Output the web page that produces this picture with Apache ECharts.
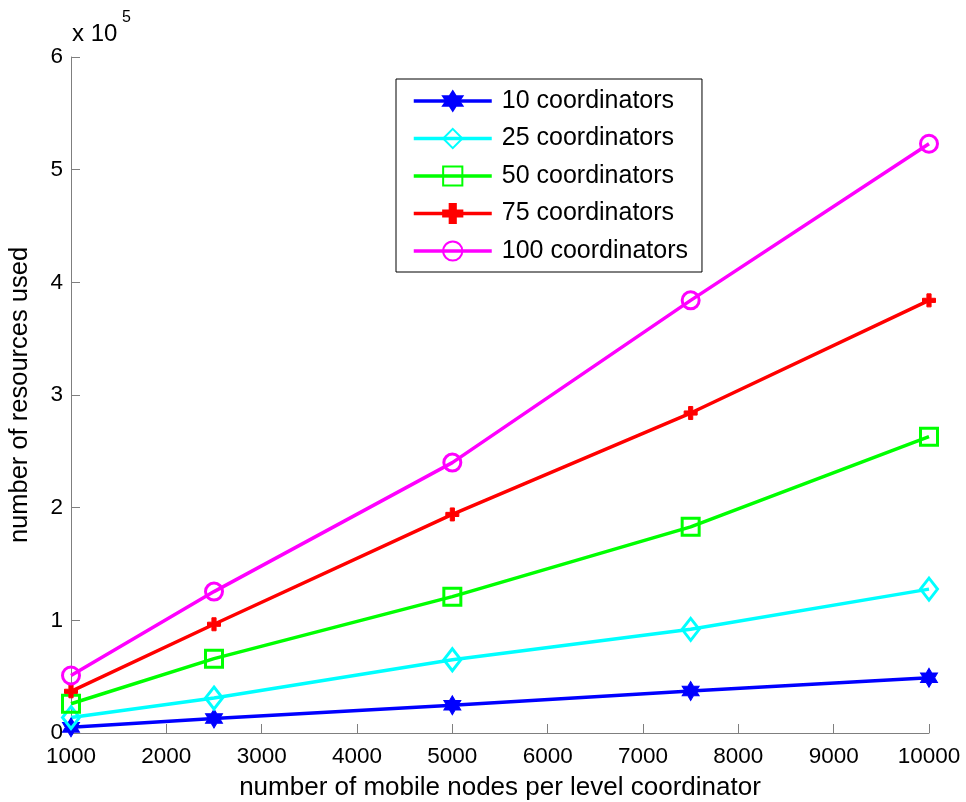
<!DOCTYPE html>
<html>
<head>
<meta charset="utf-8">
<script src="https://cdn.jsdelivr.net/npm/echarts@6/dist/echarts.min.js"></script>
<style>html,body{margin:0;padding:0;background:#fff;}#c{width:966px;height:802px;}</style>
</head>
<body>
<div id="c"></div>
<script>
var xValues = [1000, 2500, 5000, 7500, 10000];
var s10 = [5000, 12800, 24600, 37300, 49000];
var s25 = [13700, 31000, 65000, 92000, 127700];
var s50 = [26000, 66000, 121000, 183000, 263000];
var s75 = [37000, 96500, 194000, 284000, 384000];
var s100 = [51000, 125500, 240000, 384000, 523000];
var seriesNames = ['10 coordinators', '25 coordinators', '50 coordinators', '75 coordinators', '100 coordinators'];
var yTickLabels = ['0', '1', '2', '3', '4', '5', '6'];

var FONT = '"Liberation Sans", Arial, Helvetica, sans-serif';
var hexagram = 'path://M50 0 L64.43 25 L93.3 25 L78.87 50 L93.3 75 L64.43 75 L50 100 L35.57 75 L6.7 75 L21.13 50 L6.7 25 L35.57 25 Z';
var plusMark = 'path://M34 0 H66 V34 H100 V66 H66 V100 H34 V66 H0 V34 H34 Z';

function pairs(vals) {
  return xValues.map(function (x, i) { return [x, vals[i]]; });
}
function mk(name, vals, color, symbol, size, filled) {
  return {
    name: name,
    type: 'line',
    data: pairs(vals),
    symbol: symbol,
    symbolSize: size,
    showAllSymbol: true,
    lineStyle: { color: color, width: 3.5 },
    itemStyle: filled ? { color: color, borderColor: color, borderWidth: 1 } :
      { color: 'rgba(255,255,255,0)', borderColor: color, borderWidth: 3 },
    emphasis: { disabled: true },
    animation: false,
    z: 2
  };
}

var chart = echarts.init(document.getElementById('c'));
chart.setOption({
  backgroundColor: '#fff',
  animation: false,
  grid: { left: 71, right: 37, top: 57, bottom: 69, containLabel: false, outerBoundsMode: 'none' },
  xAxis: {
    type: 'value', min: 1000, max: 10000, interval: 1000,
    name: 'number of mobile nodes per level coordinator',
    nameLocation: 'middle', nameGap: 42,
    nameTextStyle: { fontFamily: FONT, fontSize: 26, color: '#000' },
    axisLine: { show: true, lineStyle: { color: '#7f7f7f', width: 1 } },
    axisTick: { show: true, inside: true, length: 9, lineStyle: { color: '#7f7f7f' } },
    axisLabel: {
      fontFamily: FONT, fontSize: 22.5, color: '#000', margin: 12,
      formatter: function (v) { return String(v); }
    },
    splitLine: { show: false }
  },
  yAxis: {
    type: 'value', min: 0, max: 600000, interval: 100000,
    name: 'number of resources used',
    nameLocation: 'middle', nameGap: 38,
    nameTextStyle: { fontFamily: FONT, fontSize: 25.5, color: '#000' },
    axisLine: { show: true, lineStyle: { color: '#7f7f7f', width: 1 } },
    axisTick: { show: true, inside: true, length: 9, lineStyle: { color: '#7f7f7f' } },
    axisLabel: {
      fontFamily: FONT, fontSize: 22.5, color: '#000', margin: 8,
      formatter: function (v) { return yTickLabels[Math.round(v / 100000)]; }
    },
    splitLine: { show: false }
  },
  legend: {
    orient: 'vertical', left: 396, top: 79,
    data: seriesNames,
    backgroundColor: '#fff', borderColor: '#000', borderWidth: 1,
    padding: [9.5, 14, 8.5, 16],
    itemWidth: 78, itemHeight: 24, itemGap: 12.5,
    selectedMode: false,
    lineStyle: { width: 3.5 },
    textStyle: { fontFamily: FONT, fontSize: 25, color: '#000', padding: [0, 0, 0, 5] }
  },
  graphic: [
    { type: 'text', left: 72, top: 22, style: { text: 'x 10', font: '24px ' + FONT, fill: '#000' } },
    { type: 'text', left: 122, top: 10, style: { text: '5', font: '16px ' + FONT, fill: '#000' } }
  ],
  series: [
    mk(seriesNames[0], s10, '#0000ff', hexagram, [17, 19], true),
    mk(seriesNames[1], s25, '#00ffff', 'diamond', [17, 22], false),
    mk(seriesNames[2], s50, '#00ff00', 'rect', [17, 17], false),
    mk(seriesNames[3], s75, '#ff0000', plusMark, [13, 13], true),
    mk(seriesNames[4], s100, '#ff00ff', 'circle', [17, 17], false)
  ]
});
</script>
</body>
</html>
